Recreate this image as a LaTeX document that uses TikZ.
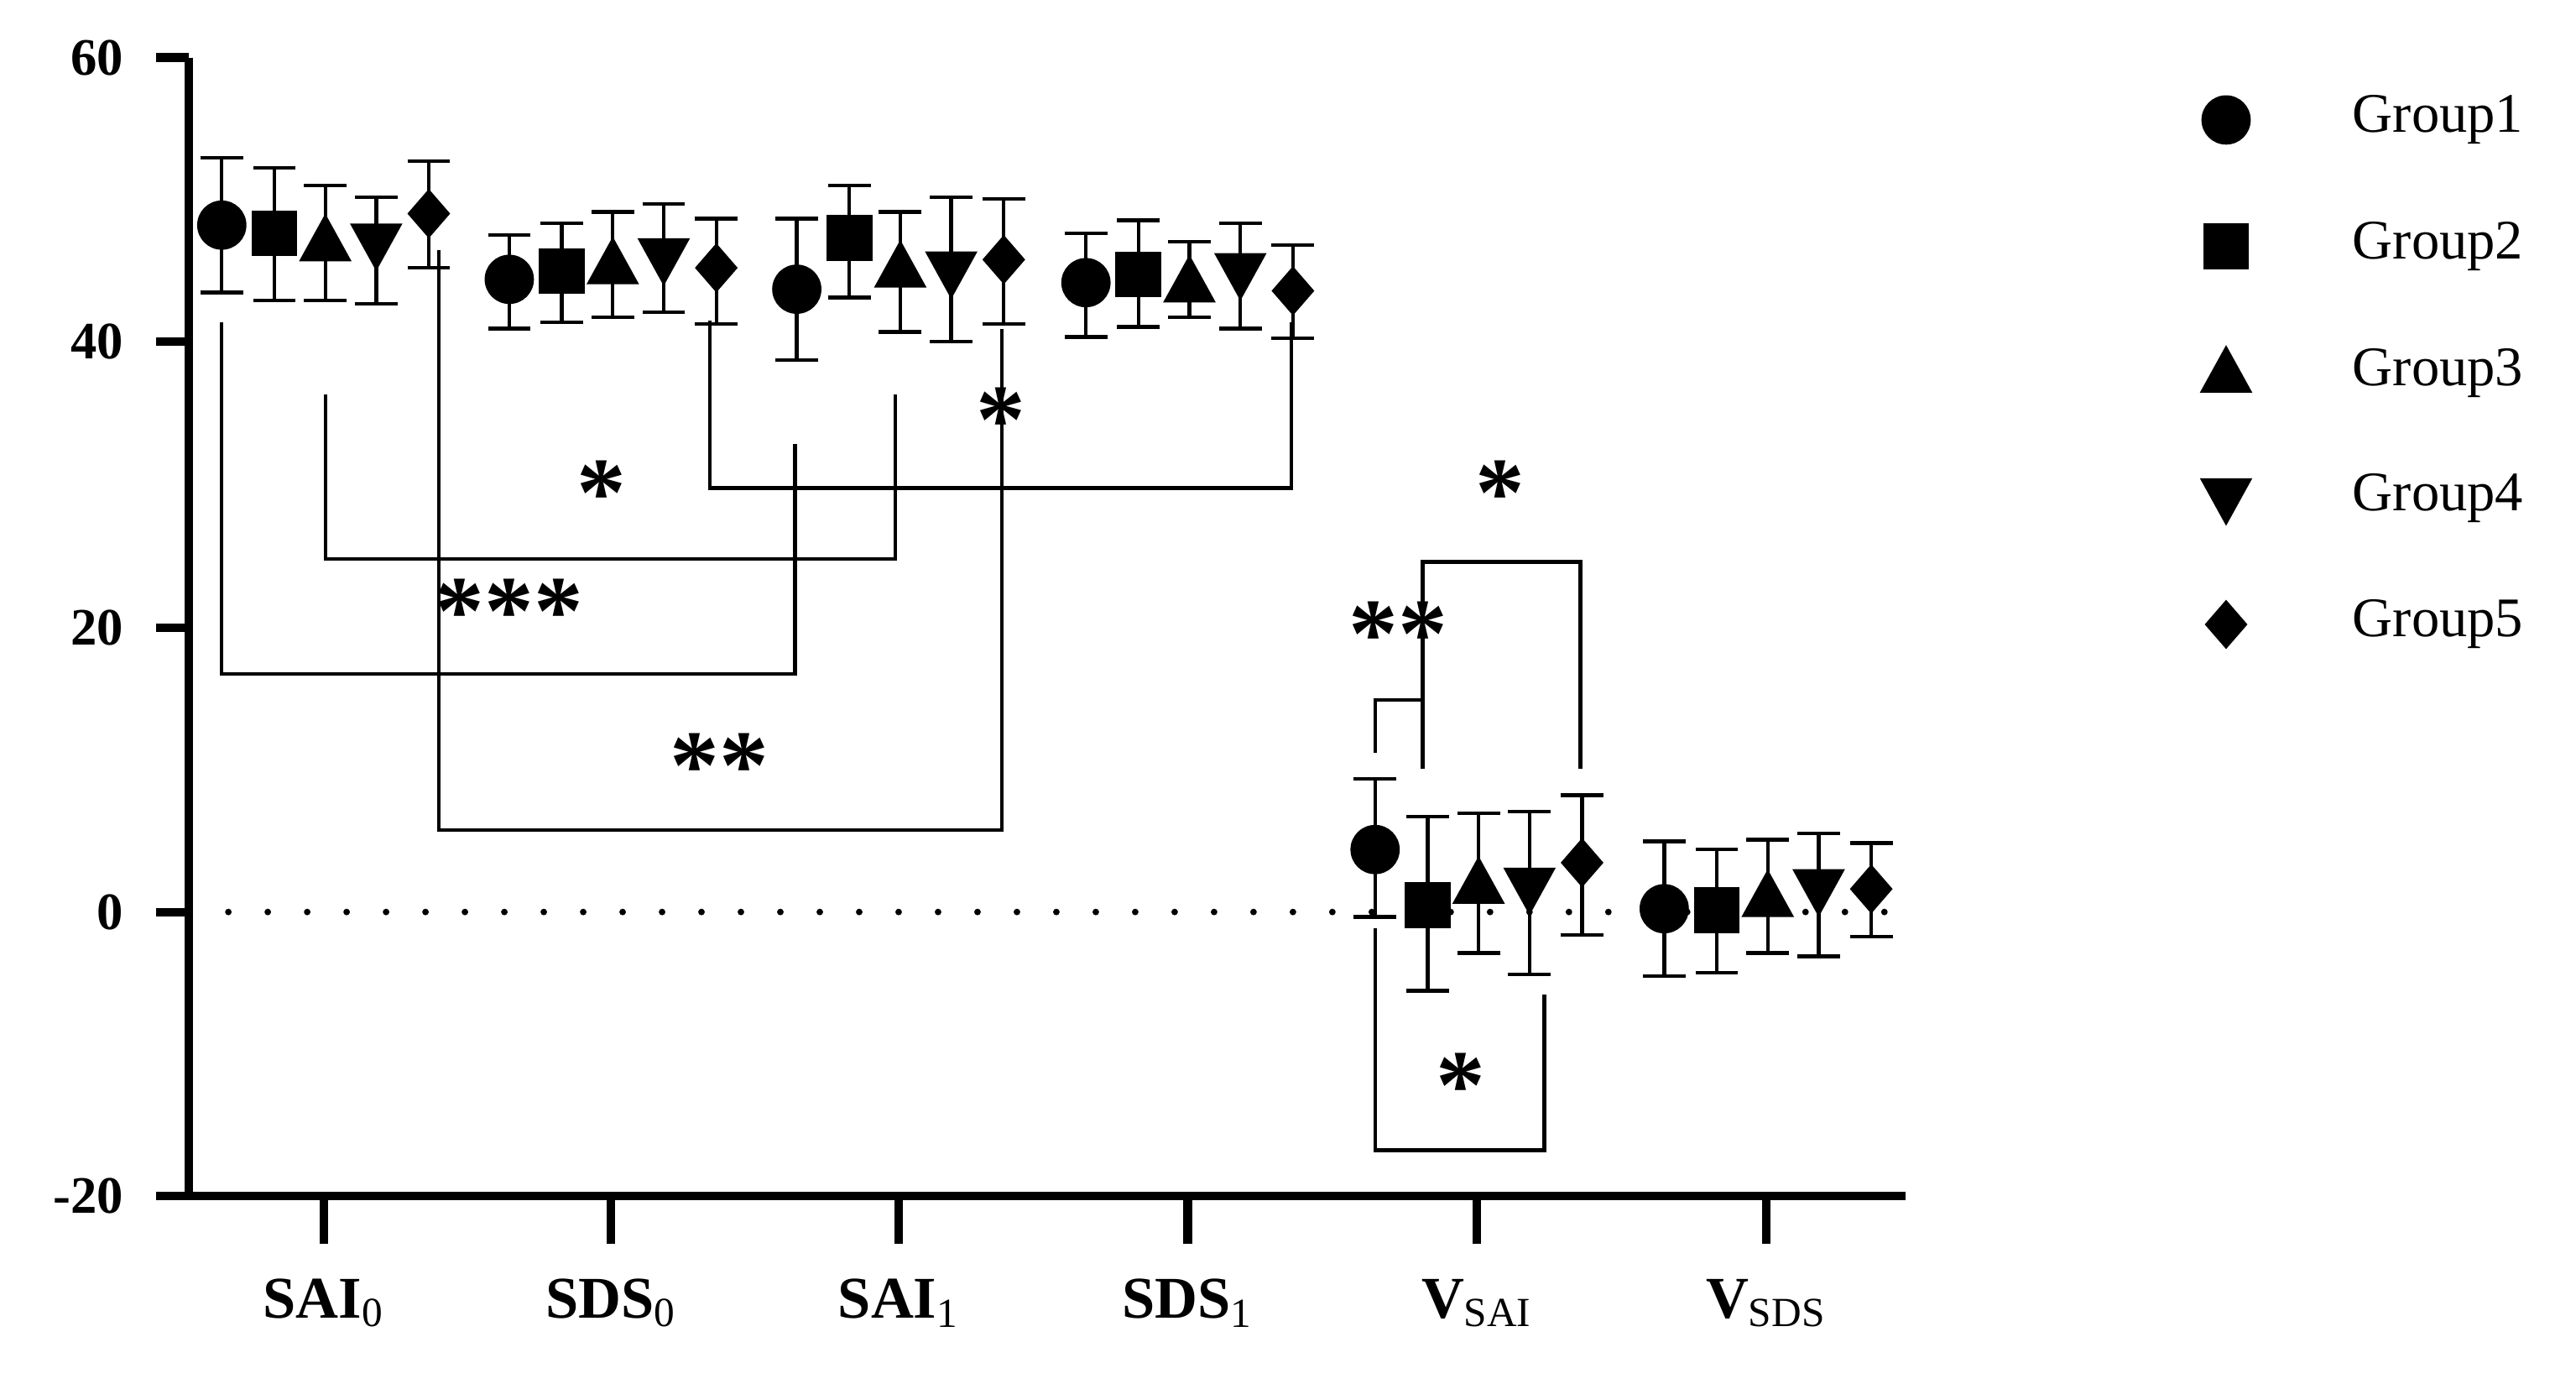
\documentclass[tikz,border=0pt]{standalone}
\usepackage{fontspec}
\setmainfont{Liberation Serif}
\begin{document}
\begin{tikzpicture}[x=0.5pt,y=-0.5pt,
  ax/.style={line width=2.6pt},
  eb/.style={line width=1.1pt},
  br/.style={line width=1.1pt},
  star/.style={font=\fontsize{30}{30}\selectfont\bfseries,inner sep=0pt},
  lab/.style={font=\fontsize{18}{18}\selectfont\bfseries},
  ylab/.style={font=\fontsize{16}{16}\selectfont\bfseries,anchor=east},
  leg/.style={font=\fontsize{17}{17}\selectfont,anchor=west}]
\useasboundingbox (0,0) rectangle (1568,845);
\newcommand\mk[3]{%
 \ifcase#1
  \fill (#2,#3) circle[radius=15];
 \or
  \fill ({#2-14},{#3-14}) rectangle ({#2+14},{#3+14});
 \or
  \fill (#2,{#3-17}) -- ({#2-16},{#3+12}) -- ({#2+16},{#3+12}) -- cycle;
 \or
  \fill (#2,{#3+17}) -- ({#2-16},{#3-12}) -- ({#2+16},{#3-12}) -- cycle;
 \or
  \fill (#2,{#3-15}) -- ({#2+13},#3) -- (#2,{#3+15}) -- ({#2-13},#3) -- cycle;
 \fi}
\newcommand\pt[5]{% type, x, mean, top, bottom
  \draw[eb] (#2,#4) -- (#2,#5) ({#2-13},#4) -- ({#2+13},#4) ({#2-13},#5) -- ({#2+13},#5);
  \mk{#1}{#2}{#3}}
% zero line
\draw[line width=2pt,dotted,line cap=round,dash pattern=on 0pt off 12pt] (115,555) -- (1160,555);
% axes
\draw[ax] (115,35) -- (115,728) -- (1160,728);
\foreach \yy/\t in {35/60,208/40,382/20,555/0,728/-20}{
  \draw[ax] (95,\yy) -- (115,\yy);
  \node[ylab] at (82,\yy) {\t};}
\foreach \xx in {197,372,547,723,899,1075} \draw[ax] (\xx,728) -- (\xx,757);
\node[lab] at (197,793) {SAI\textsubscript{\normalfont 0}};
\node[lab] at (372,793) {SDS\textsubscript{\normalfont 0}};
\node[lab] at (547,793) {SAI\textsubscript{\normalfont 1}};
\node[lab] at (723,793) {SDS\textsubscript{\normalfont 1}};
\node[lab] at (899,793) {V\textsubscript{\normalfont SAI}};
\node[lab] at (1075,793) {V\textsubscript{\normalfont SDS}};
% data
\pt{0}{135}{137}{96}{178}\pt{1}{167}{142}{102}{183}\pt{2}{198}{147}{113}{183}\pt{3}{229}{148}{120}{185}\pt{4}{261}{130}{98}{163}
\pt{0}{310}{170}{143}{200}\pt{1}{342}{165}{136}{196}\pt{2}{373}{161}{129}{193}\pt{3}{404}{157}{124}{190}\pt{4}{436}{163}{133}{197}
\pt{0}{485}{176}{133}{219}\pt{1}{517}{145}{113}{181}\pt{2}{548}{163}{129}{202}\pt{3}{579}{165}{120}{208}\pt{4}{611}{158}{121}{197}
\pt{0}{661}{172}{142}{205}\pt{1}{693}{167}{134}{199}\pt{2}{724}{172}{147}{193}\pt{3}{755}{166}{136}{200}\pt{4}{787}{177}{149}{206}
\pt{0}{837}{517}{474}{558}\pt{1}{869}{551}{497}{603}\pt{2}{900}{538}{495}{580}\pt{3}{931}{540}{494}{593}\pt{4}{963}{525}{484}{569}
\pt{0}{1013}{553}{512}{594}\pt{1}{1045}{554}{517}{592}\pt{2}{1076}{546}{511}{580}\pt{3}{1107}{541}{507}{582}\pt{4}{1139}{541}{513}{570}
% brackets
\draw[br] (135,196) -- (135,410) -- (484,410) -- (484,270);
\node[star] at (310,372) {***};
\draw[br] (198,240) -- (198,340) -- (545,340) -- (545,240);
\node[star] at (366,300) {*};
\draw[br] (267,152) -- (267,505) -- (610,505) -- (610,200);
\node[star] at (438,466) {**};
\draw[br] (432,195) -- (432,297) -- (786,297) -- (786,196);
\node[star] at (609,256) {*};
\draw[br] (837,458) -- (837,426) -- (866,426);
\draw[br] (866,468) -- (866,342) -- (962,342) -- (962,468);
\node[star] at (851,386) {**};
\node[star] at (913,300) {*};
\draw[br] (837,565) -- (837,700) -- (940,700) -- (940,605);
\node[star] at (889,661) {*};
% legend
\foreach \i/\yy in {0/73,1/150,2/227,3/303,4/380}{
  \mk{\i}{1355}{\yy}
  \pgfmathtruncatemacro\g{\i+1}
  \node[leg] at (1425,\yy) {Group\g};}
\end{tikzpicture}
\end{document}
